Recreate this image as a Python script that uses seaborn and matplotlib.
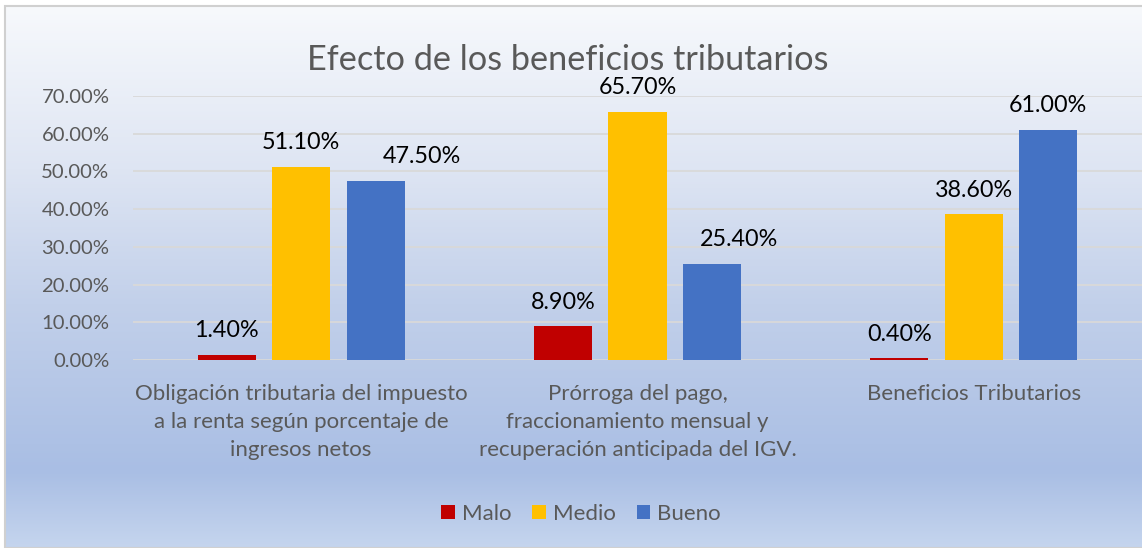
#!/usr/bin/env python3
# Efecto de los beneficios tributarios - grouped bar chart

import numpy as np
import pandas as pd
import seaborn as sns
import matplotlib.pyplot as plt
from matplotlib.colors import LinearSegmentedColormap
from matplotlib.patches import Rectangle

sns.set_style("white")
plt.rcParams['font.family'] = ['Lato', 'DejaVu Sans']

categorias = [
    "Obligación tributaria del impuesto\na la renta según porcentaje de\ningresos netos",
    "Prórroga del pago,\nfraccionamiento mensual y\nrecuperación anticipada del IGV.",
    "Beneficios Tributarios",
]
niveles = ["Malo", "Medio", "Bueno"]
malo = [0.014, 0.089, 0.004]
medio = [0.511, 0.657, 0.386]
bueno = [0.475, 0.254, 0.610]
colores = ["#C00000", "#FFC000", "#4472C4"]
yticks = [0.0, 0.1, 0.2, 0.3, 0.4, 0.5, 0.6, 0.7]

df = pd.DataFrame({
    "categoria": categorias * 3,
    "nivel": np.repeat(niveles, 3),
    "valor": malo + medio + bueno,
})

W, H = 1142, 548
fig = plt.figure(figsize=(W / 100, H / 100), dpi=100, facecolor="white")

# gradient background of the chart area
bg = fig.add_axes([5 / W, 0, 1 - 5 / W, (H - 6) / H], zorder=-10)
cmap = LinearSegmentedColormap.from_list("fondo", [
    (0.0, "#F7F9FC"), (0.3, "#DEE5F3"), (0.55, "#C2D0EA"),
    (0.86, "#A9BEE4"), (1.0, "#C5D5EE")])
bg.imshow(np.linspace(0, 1, 256).reshape(-1, 1), aspect="auto", cmap=cmap,
          extent=[0, 1, 0, 1], origin="upper")
bg.set_xlim(0, 1)
bg.set_ylim(0, 1)
bg.axis("off")
bg.add_patch(Rectangle((0, 0), 1.2, 1, fill=False, edgecolor="#D0D0D0",
                       lw=1.5, transform=bg.transAxes, clip_on=False))

ax = fig.add_axes([133 / W, (H - 360) / H, (W - 133) / W, 264 / H])
ax.patch.set_alpha(0)

sns.barplot(data=df, x="categoria", y="valor", hue="nivel", palette=colores,
            saturation=1, width=0.664, gap=0.22, errorbar=None, ax=ax,
            linewidth=0, zorder=3)

# two labels were dragged sideways in the original chart (offsets in points)
shift = {("Bueno", 0): 33, ("Bueno", 1): 19.5}
for nivel, cont in zip(niveles, ax.containers):
    anns = ax.bar_label(cont, labels=["{:.2f}%".format(v.get_height() * 100) for v in cont],
                        padding=10, fontsize=16.8, color="black")
    for i, a in enumerate(anns):
        dx = shift.get((nivel, i), 0)
        a.xyann = (dx, a.xyann[1])

ax.set_ylim(0, 0.7)
ax.set_xlim(-0.5, 2.5)
ax.set_yticks(yticks)
ax.set_yticklabels(["{:.2f}%".format(t * 100) for t in yticks])
ax.grid(axis="y", color="#D9D9D9", lw=1.3, zorder=0)
ax.grid(axis="x", visible=False)
ax.set_axisbelow(True)
for s in ax.spines.values():
    s.set_visible(False)
ax.tick_params(axis="y", length=0, pad=17, labelsize=14.6, labelcolor="#595959")
ax.tick_params(axis="x", length=0, pad=17, labelsize=16, labelcolor="#595959")
for lbl in ax.get_xticklabels():
    lbl.set_linespacing(1.52)
ax.set_xlabel("")
ax.set_ylabel("")

handles, labels = ax.get_legend_handles_labels()
ax.get_legend().remove()
fig.legend(handles, labels, loc="center", bbox_to_anchor=(581 / W, 1 - 514 / H),
           ncol=3, frameon=False, fontsize=16, labelcolor="#595959",
           handlelength=0.62, handleheight=0.62, handletextpad=0.3,
           columnspacing=0.95)

fig.text(568 / W, 1 - 60 / H, "Efecto de los beneficios tributarios",
         ha="center", va="center", fontsize=24.7, color="#595959")

plt.savefig("out.png", dpi=100)
